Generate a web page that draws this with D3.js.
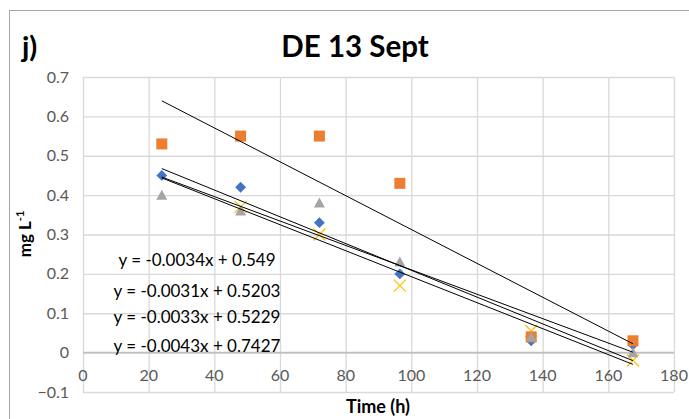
<!DOCTYPE html>
<html>
<head>
<meta charset="utf-8">
<script src="https://cdn.jsdelivr.net/npm/d3@7"></script>
<style>
  html, body { margin: 0; padding: 0; background: #fff; }
  svg { display: block; }
  text { font-family: Lato, "Open Sans", sans-serif; }
</style>
</head>
<body>
<svg id="chart" width="689" height="419"></svg>
<script>
// ---- data ----
const times = [24, 48, 72, 96.5, 136.5, 167.5];
const blueValues = [0.45, 0.42, 0.33, 0.20, 0.03, 0.02];
const orangeValues = [0.53, 0.55, 0.55, 0.43, 0.04, 0.03];
const grayValues = [0.40, 0.36, 0.38, 0.23, 0.04, 0.00];
const yellowValues = [null, 0.37, 0.30, 0.17, 0.055, -0.02];
const seriesNames = ["blue", "orange", "gray", "yellow"];
const trendSlopes = [-0.0034, -0.0043, -0.0031, -0.0033];
const trendIntercepts = [0.549, 0.7427, 0.5203, 0.5229];
const trendStart = 24, trendEnd = 167.5;
const equationLabels = ["y = -0.0034x + 0.549", "y = -0.0031x + 0.5203", "y = -0.0033x + 0.5229", "y = -0.0043x + 0.7427"];
const xTicks = [0, 20, 40, 60, 80, 100, 120, 140, 160, 180];
const yTicks = [-0.1, 0, 0.1, 0.2, 0.3, 0.4, 0.5, 0.6, 0.7];
const titleText = "DE 13 Sept";
const panelLabel = "j)";
const xTitle = "Time (h)";

// ---- drawing ----
const svg = d3.select("#chart");
const x = d3.scaleLinear().domain([0, 180]).range([83, 674]);
const y = d3.scaleLinear().domain([-0.1, 0.7]).range([392, 77]);

svg.append("rect").attr("width", 689).attr("height", 419).attr("fill", "#fff");
svg.append("rect").attr("x", 9.5).attr("y", 10.5).attr("width", 760).attr("height", 500)
  .attr("fill", "none").attr("stroke", "#a6a6a6").attr("stroke-width", 1);

// gridlines via axes
const gx = svg.append("g").attr("transform", `translate(0,${y(-0.1)})`)
  .call(d3.axisBottom(x).tickValues(xTicks).tickSize(-(y(-0.1) - y(0.7))).tickFormat(""));
const gy = svg.append("g").attr("transform", `translate(${x(0)},0)`)
  .call(d3.axisLeft(y).tickValues(yTicks).tickSize(-(x(180) - x(0))).tickFormat(""));
[gx, gy].forEach(g => {
  g.select(".domain").remove();
  g.selectAll(".tick line").attr("stroke", "#d9d9d9").attr("stroke-width", 1.3);
});

// zero axis line
svg.append("line").attr("x1", x(0)).attr("x2", x(180)).attr("y1", y(0)).attr("y2", y(0))
  .attr("stroke", "#bfbfbf").attr("stroke-width", 1.6);

// tick labels
svg.append("g").selectAll("text").data(yTicks).join("text")
  .attr("x", 69).attr("y", d => y(d) + 5.5).attr("text-anchor", "end")
  .attr("font-size", 16).attr("fill", "#595959").text(d => d3.format("")(+d.toFixed(1)));
svg.append("g").selectAll("text").data(xTicks).join("text")
  .attr("x", d => x(d)).attr("y", 381).attr("text-anchor", "middle")
  .attr("font-size", 16).attr("fill", "#595959").text(d => d);

// markers (draw order: blue, yellow, orange, gray)
const markerGroup = svg.append("g");
function pts(vals) { return times.map((t, i) => ({t, v: vals[i]})).filter(d => d.v !== null); }

markerGroup.append("g").selectAll("path").data(pts(blueValues)).join("path")
  .attr("d", d => { const cx = x(d.t), cy = y(d.v), r = 5.4; return `M${cx},${cy - r}L${cx + r},${cy}L${cx},${cy + r}L${cx - r},${cy}Z`; })
  .attr("fill", "#4472C4");
markerGroup.append("g").selectAll("path").data(pts(yellowValues)).join("path")
  .attr("d", d => { const cx = x(d.t), cy = y(d.v), r = 6; return `M${cx - r},${cy - r}L${cx + r},${cy + r}M${cx + r},${cy - r}L${cx - r},${cy + r}`; })
  .attr("fill", "none").attr("stroke", "#FFC000").attr("stroke-width", 1.2);
markerGroup.append("g").selectAll("rect").data(pts(orangeValues)).join("rect")
  .attr("x", d => x(d.t) - 5.5).attr("y", d => y(d.v) - 5.5).attr("width", 11).attr("height", 11)
  .attr("fill", "#ED7D31");
markerGroup.append("g").selectAll("path").data(pts(grayValues)).join("path")
  .attr("d", d => { const cx = x(d.t), cy = y(d.v); return `M${cx},${cy - 5.5}L${cx + 5.5},${cy + 4.5}L${cx - 5.5},${cy + 4.5}Z`; })
  .attr("fill", "#A5A5A5");

// trendlines
svg.append("g").selectAll("line").data(trendSlopes.map((m, i) => ({m, b: trendIntercepts[i]}))).join("line")
  .attr("x1", x(trendStart)).attr("x2", x(trendEnd))
  .attr("y1", d => y(d.m * trendStart + d.b)).attr("y2", d => y(d.m * trendEnd + d.b))
  .attr("stroke", "#000").attr("stroke-width", 1);

// equation labels
const eqBaselines = [265.5, 296.5, 322.5, 352];
svg.append("g").selectAll("text").data(equationLabels).join("text")
  .attr("x", 197).attr("y", (d, i) => eqBaselines[i]).attr("text-anchor", "middle")
  .attr("font-size", 17).attr("fill", "#000").text(d => d);

// titles
svg.append("text").attr("x", 355).attr("y", 57).attr("text-anchor", "middle")
  .attr("font-size", 29.5).attr("font-weight", "bold").attr("fill", "#000").text(titleText);
svg.append("text").attr("x", 22).attr("y", 57)
  .attr("font-size", 29).attr("font-weight", "bold").attr("fill", "#000").text(panelLabel);
svg.append("text").attr("x", 378).attr("y", 413).attr("text-anchor", "middle")
  .attr("font-size", 18).attr("font-weight", "bold").attr("fill", "#000").text(xTitle);
const yt = svg.append("text").attr("transform", "translate(31,234) rotate(-90)").attr("text-anchor", "middle")
  .attr("font-size", 17).attr("font-weight", "bold").attr("fill", "#000");
yt.append("tspan").text("mg L");
yt.append("tspan").attr("dy", -7).attr("font-size", 11).text("-1");
</script>
</body>
</html>
